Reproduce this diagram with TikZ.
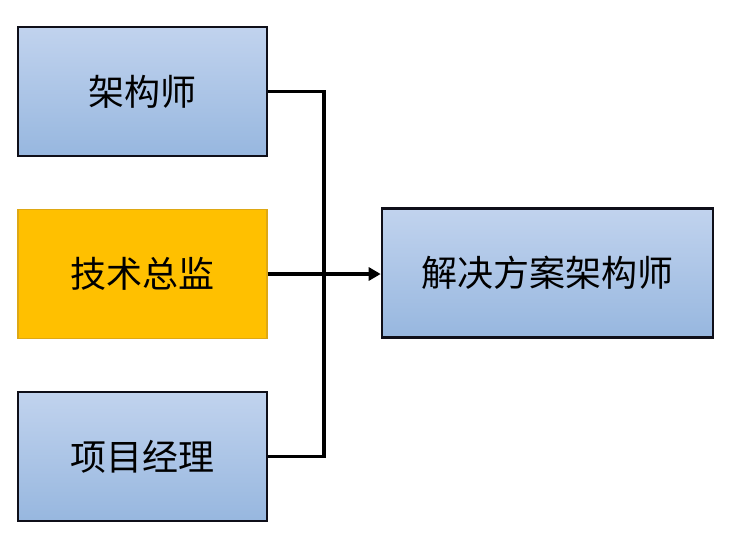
\documentclass[tikz,border=0pt]{standalone}
\usepackage{fontspec}
\newfontfamily\cjk{Noto Sans CJK SC}
\usetikzlibrary{arrows.meta}
\definecolor{bluetop}{RGB}{193,211,238}
\definecolor{bluebot}{RGB}{151,183,223}
\definecolor{orangefill}{RGB}{255,192,0}
\definecolor{orangeline}{RGB}{222,168,20}
\definecolor{edgeline}{RGB}{15,15,25}
\tikzset{
  bluebox/.style={draw=edgeline, line width=2.6pt, top color=bluetop, bottom color=bluebot,
    minimum width=#1, minimum height=129pt, inner sep=0pt, font=\cjk\fontsize{36}{40}\selectfont, text=black},
  orangebox/.style={draw=orangeline, line width=1.2pt, fill=orangefill,
    minimum width=249pt, minimum height=129pt, inner sep=0pt, font=\cjk\fontsize{36}{40}\selectfont, text=black},
  conn/.style={draw=black, line width=3.2pt},
}
\begin{document}
\begin{tikzpicture}[x=1pt,y=-1pt]
\fill[white] (0,0) rectangle (750,552);
\useasboundingbox (0,0) rectangle (750,552);
\node[bluebox=249pt] (arch) at (142.5,91.5) {架构师};
\node[orangebox] (cto) at (142.5,274) {技术总监};
\node[bluebox=249pt] (pm) at (142.5,456.5) {项目经理};
\node[bluebox=331pt] (sol) at (547.5,273) {解决方案架构师};
\coordinate (jt) at (324,91.5);
\coordinate (jb) at (324,456.5);
\draw[conn] (arch.east) -- (jt) -- (jb) -- (pm.east);
\draw[conn, -{Triangle[length=12pt,width=13pt]}] (cto.east) -- (sol.west |- cto.east);
\end{tikzpicture}
\end{document}
